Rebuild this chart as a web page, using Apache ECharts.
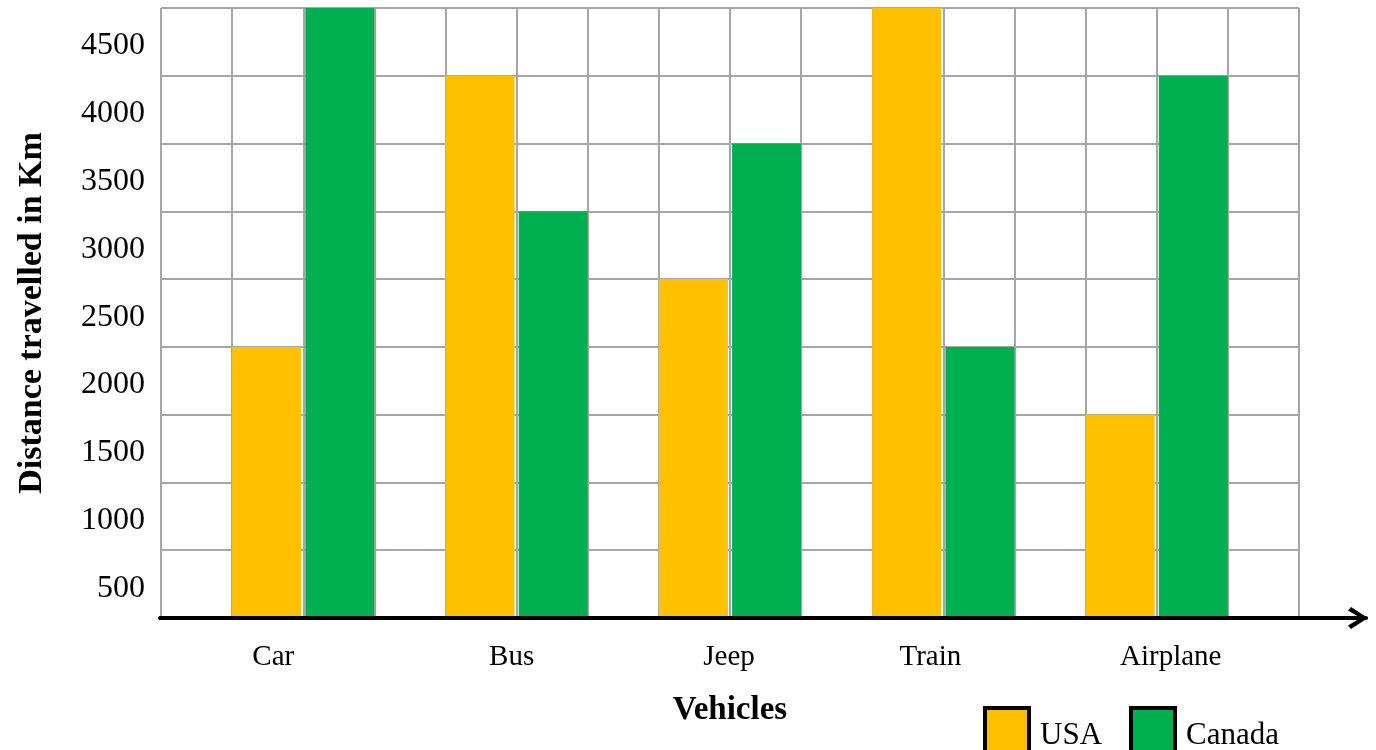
<!DOCTYPE html>
<html><head><meta charset="utf-8">
<script src="https://cdn.jsdelivr.net/npm/echarts@6/dist/echarts.min.js"></script>
<style>html,body{margin:0;padding:0;background:#fff}#c{width:1376px;height:750px}</style>
</head><body><div id="c"></div>
<script>
// ---- data ----
const categories = ['Car', 'Bus', 'Jeep', 'Train', 'Airplane'];
const usaValues = [2000, 4000, 2500, 4500, 1500];
const canadaValues = [4500, 3000, 3500, 2000, 4000];
const seriesNames = ['USA', 'Canada'];
const yMin = 0, yMax = 4500, yStep = 500;
const xTitle = 'Vehicles';
const yTitle = 'Distance travelled in Km';

// ---- style ----
const FONT = "'Liberation Serif', 'Times New Roman', serif";
const colors = ['#FFC000', '#00B050'];
const gridColor = '#A6A6A6';
const labelShift = [-30, -5, -1, -13, 14]; // horizontal nudges of category labels
const plot = { left: 161, right: 77, top: 8, bottom: 132 };
const columns = 16;
const colW = (1376 - plot.left - plot.right) / columns;
const chevron = 'path://M11,0 L22,17 L18.5,20 L11,7.5 L3.5,20 L0,17 Z';

const rich = {};
labelShift.forEach((s, i) => {
  rich['s' + i] = {
    fontFamily: FONT, fontSize: 29, color: '#000',
    padding: s < 0 ? [0, -2 * s, 0, 0] : [0, 0, 0, 2 * s]
  };
});

const chart = echarts.init(document.getElementById('c'), null, { renderer: 'canvas' });
chart.setOption({
  animation: false,
  backgroundColor: '#fff',
  grid: [
    { left: plot.left + colW / 2, right: plot.right + colW / 2, top: plot.top, bottom: plot.bottom, outerBoundsMode: 'none', containLabel: false },
    { left: plot.left, right: plot.right, top: plot.top, bottom: plot.bottom, outerBoundsMode: 'none', containLabel: false },
    { left: plot.left - 1, right: 10, top: plot.top, bottom: plot.bottom, outerBoundsMode: 'none', containLabel: false }
  ],
  xAxis: [
    {
      gridIndex: 0, type: 'category', data: categories,
      axisLine: { show: false }, axisTick: { show: false }, splitLine: { show: false },
      axisLabel: {
        margin: 25,
        formatter: (v, i) => '{s' + i + '|' + v + '}',
        rich: rich
      },
      name: xTitle, nameLocation: 'middle', nameGap: 76,
      nameTextStyle: { fontFamily: FONT, fontSize: 33, fontWeight: 'bold', color: '#000' }
    },
    {
      gridIndex: 1, type: 'value', min: 0, max: columns, interval: 1,
      axisLine: { show: false }, axisTick: { show: false }, axisLabel: { show: false },
      splitLine: { show: true, lineStyle: { color: gridColor, width: 2 } }
    },
    {
      gridIndex: 2, type: 'value', min: 0, max: 1, z: 5,
      axisLine: {
        show: true, lineStyle: { color: '#000', width: 4 },
        symbol: ['none', chevron], symbolSize: [22, 21], symbolOffset: [0, -8]
      },
      axisTick: { show: false }, axisLabel: { show: false }, splitLine: { show: false }
    }
  ],
  yAxis: [
    { gridIndex: 0, type: 'value', min: yMin, max: yMax, interval: yStep, show: false },
    {
      gridIndex: 1, type: 'value', min: yMin, max: yMax, interval: yStep,
      axisLine: { show: false }, axisTick: { show: false },
      splitLine: { show: true, lineStyle: { color: gridColor, width: 2 } },
      axisLabel: {
        margin: 16,
        formatter: v => (v === yMin ? '' : '{v|' + v + '}'),
        rich: { v: { fontFamily: FONT, fontSize: 32, color: '#000', padding: [76, 0, 0, 0] } }
      },
      name: yTitle, nameLocation: 'middle', nameGap: 112, nameRotate: 90,
      nameTextStyle: { fontFamily: FONT, fontSize: 34, fontWeight: 'bold', color: '#000' }
    },
    { gridIndex: 2, type: 'value', show: false }
  ],
  legend: {
    data: seriesNames, left: 983, top: 706, padding: 0,
    itemWidth: 44, itemHeight: 56, itemGap: 27, icon: 'rect',
    itemStyle: { borderColor: '#000', borderWidth: 4 },
    textStyle: { fontFamily: FONT, fontSize: 31, color: '#000', padding: [0, 0, 0, 6] }
  },
  series: [
    { name: seriesNames[0], type: 'bar', xAxisIndex: 0, yAxisIndex: 0, data: usaValues,
      barWidth: 69, barGap: '6%', itemStyle: { color: colors[0] } },
    { name: seriesNames[1], type: 'bar', xAxisIndex: 0, yAxisIndex: 0, data: canadaValues,
      barWidth: 69, barGap: '6%', itemStyle: { color: colors[1] } }
  ]
});
</script>
</body></html>
